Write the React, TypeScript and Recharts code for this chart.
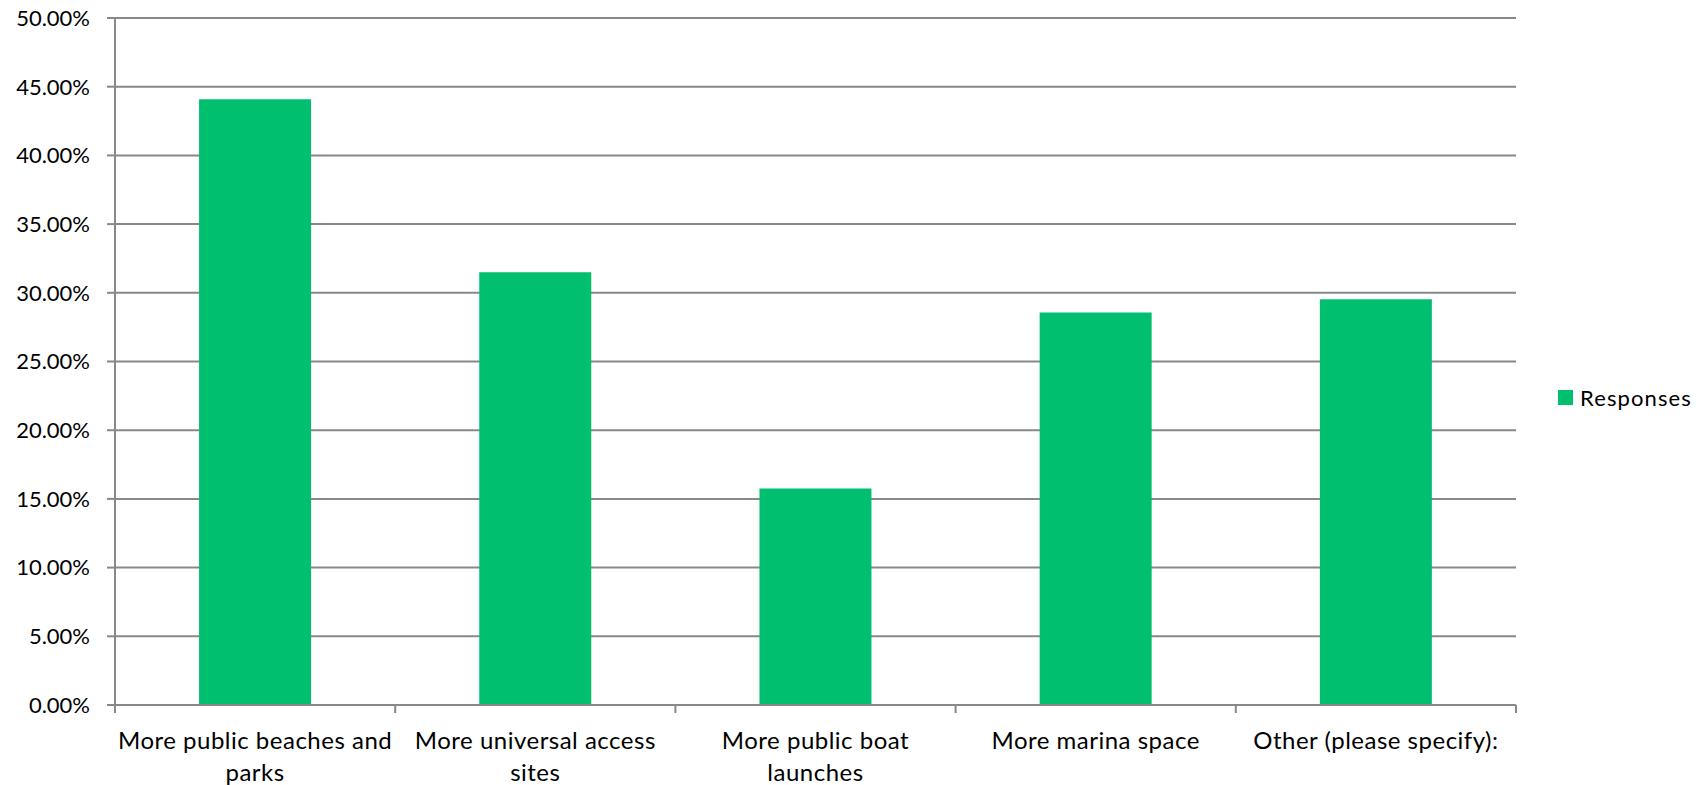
import React from 'react';
import { BarChart, Bar, XAxis, YAxis, CartesianGrid, Legend } from 'recharts';

const categories = [
  'More public beaches and parks',
  'More universal access sites',
  'More public boat launches',
  'More marina space',
  'Other (please specify):',
];
// tick labels as they wrap in the chart
const xTickLines = [
  ['More public beaches and', 'parks'],
  ['More universal access', 'sites'],
  ['More public boat', 'launches'],
  ['More marina space'],
  ['Other (please specify):'],
];
const responses = [44.09, 31.5, 15.75, 28.57, 29.53];
const yTicks = [0, 5, 10, 15, 20, 25, 30, 35, 40, 45, 50];
const seriesName = 'Responses';

const data = categories.map((c, i) => ({ name: c, value: responses[i] }));

const GREEN = '#00BF6F';
const GRID = '#888888';
const FONT = 'Lato, sans-serif';
const FS = 22;
const XFS = 24;
const XLS = 0.5;

const XTick = (props: any) => {
  const { x, y, payload, index, visibleTicksCount } = props;
  const off = payload && typeof payload.offset === 'number' ? payload.offset : 140;
  const axisY = y - 8;
  const ci = categories.indexOf(String(payload.value));
  const lines = ci >= 0 ? xTickLines[ci] : [String(payload.value)];
  return (
    <g>
      <line x1={x - off} x2={x - off} y1={axisY} y2={axisY + 8} stroke={GRID} strokeWidth={2} />
      {index === visibleTicksCount - 1 ? (
        <line x1={x + off} x2={x + off} y1={axisY} y2={axisY + 8} stroke={GRID} strokeWidth={2} />
      ) : null}
      <text
        x={x}
        y={axisY + 44}
        textAnchor="middle"
        fill="#000"
        style={{ fontFamily: FONT, fontSize: XFS, letterSpacing: `${XLS}px` }}
      >
        {lines.map((l, i) => (
          <tspan key={i} x={x} dy={i === 0 ? 0 : 32}>
            {l}
          </tspan>
        ))}
      </text>
    </g>
  );
};

const LegendContent = () => (
  <div style={{ display: 'flex', alignItems: 'center', fontFamily: FONT, fontSize: FS, letterSpacing: '1.1px', color: '#000', whiteSpace: 'nowrap' }}>
    <span style={{ display: 'inline-block', width: 15, height: 15, background: GREEN, marginRight: 7 }} />
    <span>{seriesName}</span>
  </div>
);

export default function App() {
  return (
    <div style={{ position: 'absolute', left: 0, top: 0, width: 1707, height: 785, background: '#fff' }}>
      <BarChart
        width={1707}
        height={785}
        data={data}
        margin={{ top: 18, right: 41, left: 0, bottom: 0 }}
        barCategoryGap="30%"
      >
        <CartesianGrid vertical={false} stroke={GRID} strokeWidth={2} />
        <XAxis
          dataKey="name"
          height={80}
          interval={0}
          tickLine={false}
          tickSize={8}
          tickMargin={0}
          axisLine={{ stroke: GRID, strokeWidth: 2 }}
          tick={<XTick />}
        />
        <YAxis
          width={115}
          domain={[0, 50]}
          ticks={yTicks}
          interval={0}
          tickSize={8}
          tickMargin={17}
          tickFormatter={(v: number) => v.toFixed(2) + '%'}
          tick={{ fill: '#000', fontFamily: FONT, fontSize: FS }}
          axisLine={{ stroke: GRID, strokeWidth: 2 }}
          tickLine={{ stroke: GRID, strokeWidth: 2 }}
        />
        <Legend
          layout="vertical"
          align="right"
          verticalAlign="middle"
          content={<LegendContent />}
          wrapperStyle={{ width: 150, left: 1558, top: 384 }}
        />
        <Bar dataKey="value" name={seriesName} fill={GREEN} isAnimationActive={false} />
      </BarChart>
    </div>
  );
}
